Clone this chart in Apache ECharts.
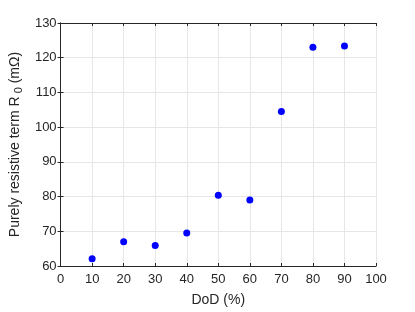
<!DOCTYPE html>
<html><head><meta charset="utf-8">
<script src="https://cdn.jsdelivr.net/npm/echarts@6/dist/echarts.min.js"></script>
<style>html,body{margin:0;padding:0;background:#fff}#c{width:415px;height:312px}</style>
</head><body><div id="c"></div>
<script>
const dod = [10, 20, 30, 40, 50, 60, 70, 80, 90];
const r0 = [62.1, 67, 65.9, 69.5, 80.4, 79, 104.5, 123, 123.4];
const xLabel = 'DoD (%)';
const yLabel = 'Purely resistive term R';

const chart = echarts.init(document.getElementById('c'), null, {renderer: 'canvas'});
const axisCol = '#262626';
const font = 'Liberation Sans';
const common = {
  axisLine: {show: true, lineStyle: {color: axisCol, width: 1}},
  axisTick: {show: true, inside: true, length: 3, lineStyle: {color: axisCol}},
  splitLine: {show: true, lineStyle: {color: '#e6e6e6', width: 1}},
  axisLabel: {color: axisCol, fontSize: 13, fontFamily: font}
};
chart.setOption({
  animation: false,
  grid: {left: 57, right: 39, top: 23, bottom: 44, containLabel: false},
  xAxis: [
    Object.assign({type: 'value', min: 0, max: 100, interval: 10, position: 'bottom',
      name: xLabel, nameLocation: 'middle', nameGap: 27,
      nameTextStyle: {color: axisCol, fontSize: 14, fontFamily: font}}, common,
      {axisLabel: {color: axisCol, fontSize: 13, fontFamily: font, margin: 7}}),
    Object.assign({type: 'value', min: 0, max: 100, interval: 10, position: 'top'}, common,
      {axisLabel: {show: false}, splitLine: {show: false}})
  ],
  yAxis: [
    Object.assign({type: 'value', min: 60, max: 130, interval: 10, position: 'left',
      name: '{a|' + yLabel + '}{s| 0}{a| (mΩ)}', nameLocation: 'middle', nameGap: 36,
      nameTextStyle: {color: axisCol, fontFamily: font,
        rich: {a: {fontSize: 14, fontFamily: font, color: axisCol},
               s: {fontSize: 11, fontFamily: font, color: axisCol, verticalAlign: 'bottom', padding: [7, 0, 0, 0]}}}}, common,
      {axisLabel: {color: axisCol, fontSize: 13, fontFamily: font, margin: 4}}),
    Object.assign({type: 'value', min: 60, max: 130, interval: 10, position: 'right'}, common,
      {axisLabel: {show: false}, splitLine: {show: false}})
  ],
  series: [{
    type: 'scatter',
    xAxisIndex: 0, yAxisIndex: 0,
    data: dod.map((d, i) => [d, r0[i]]),
    symbol: 'circle', symbolSize: 7,
    itemStyle: {color: '#0000ff', opacity: 1}
  }]
});
</script></body></html>
